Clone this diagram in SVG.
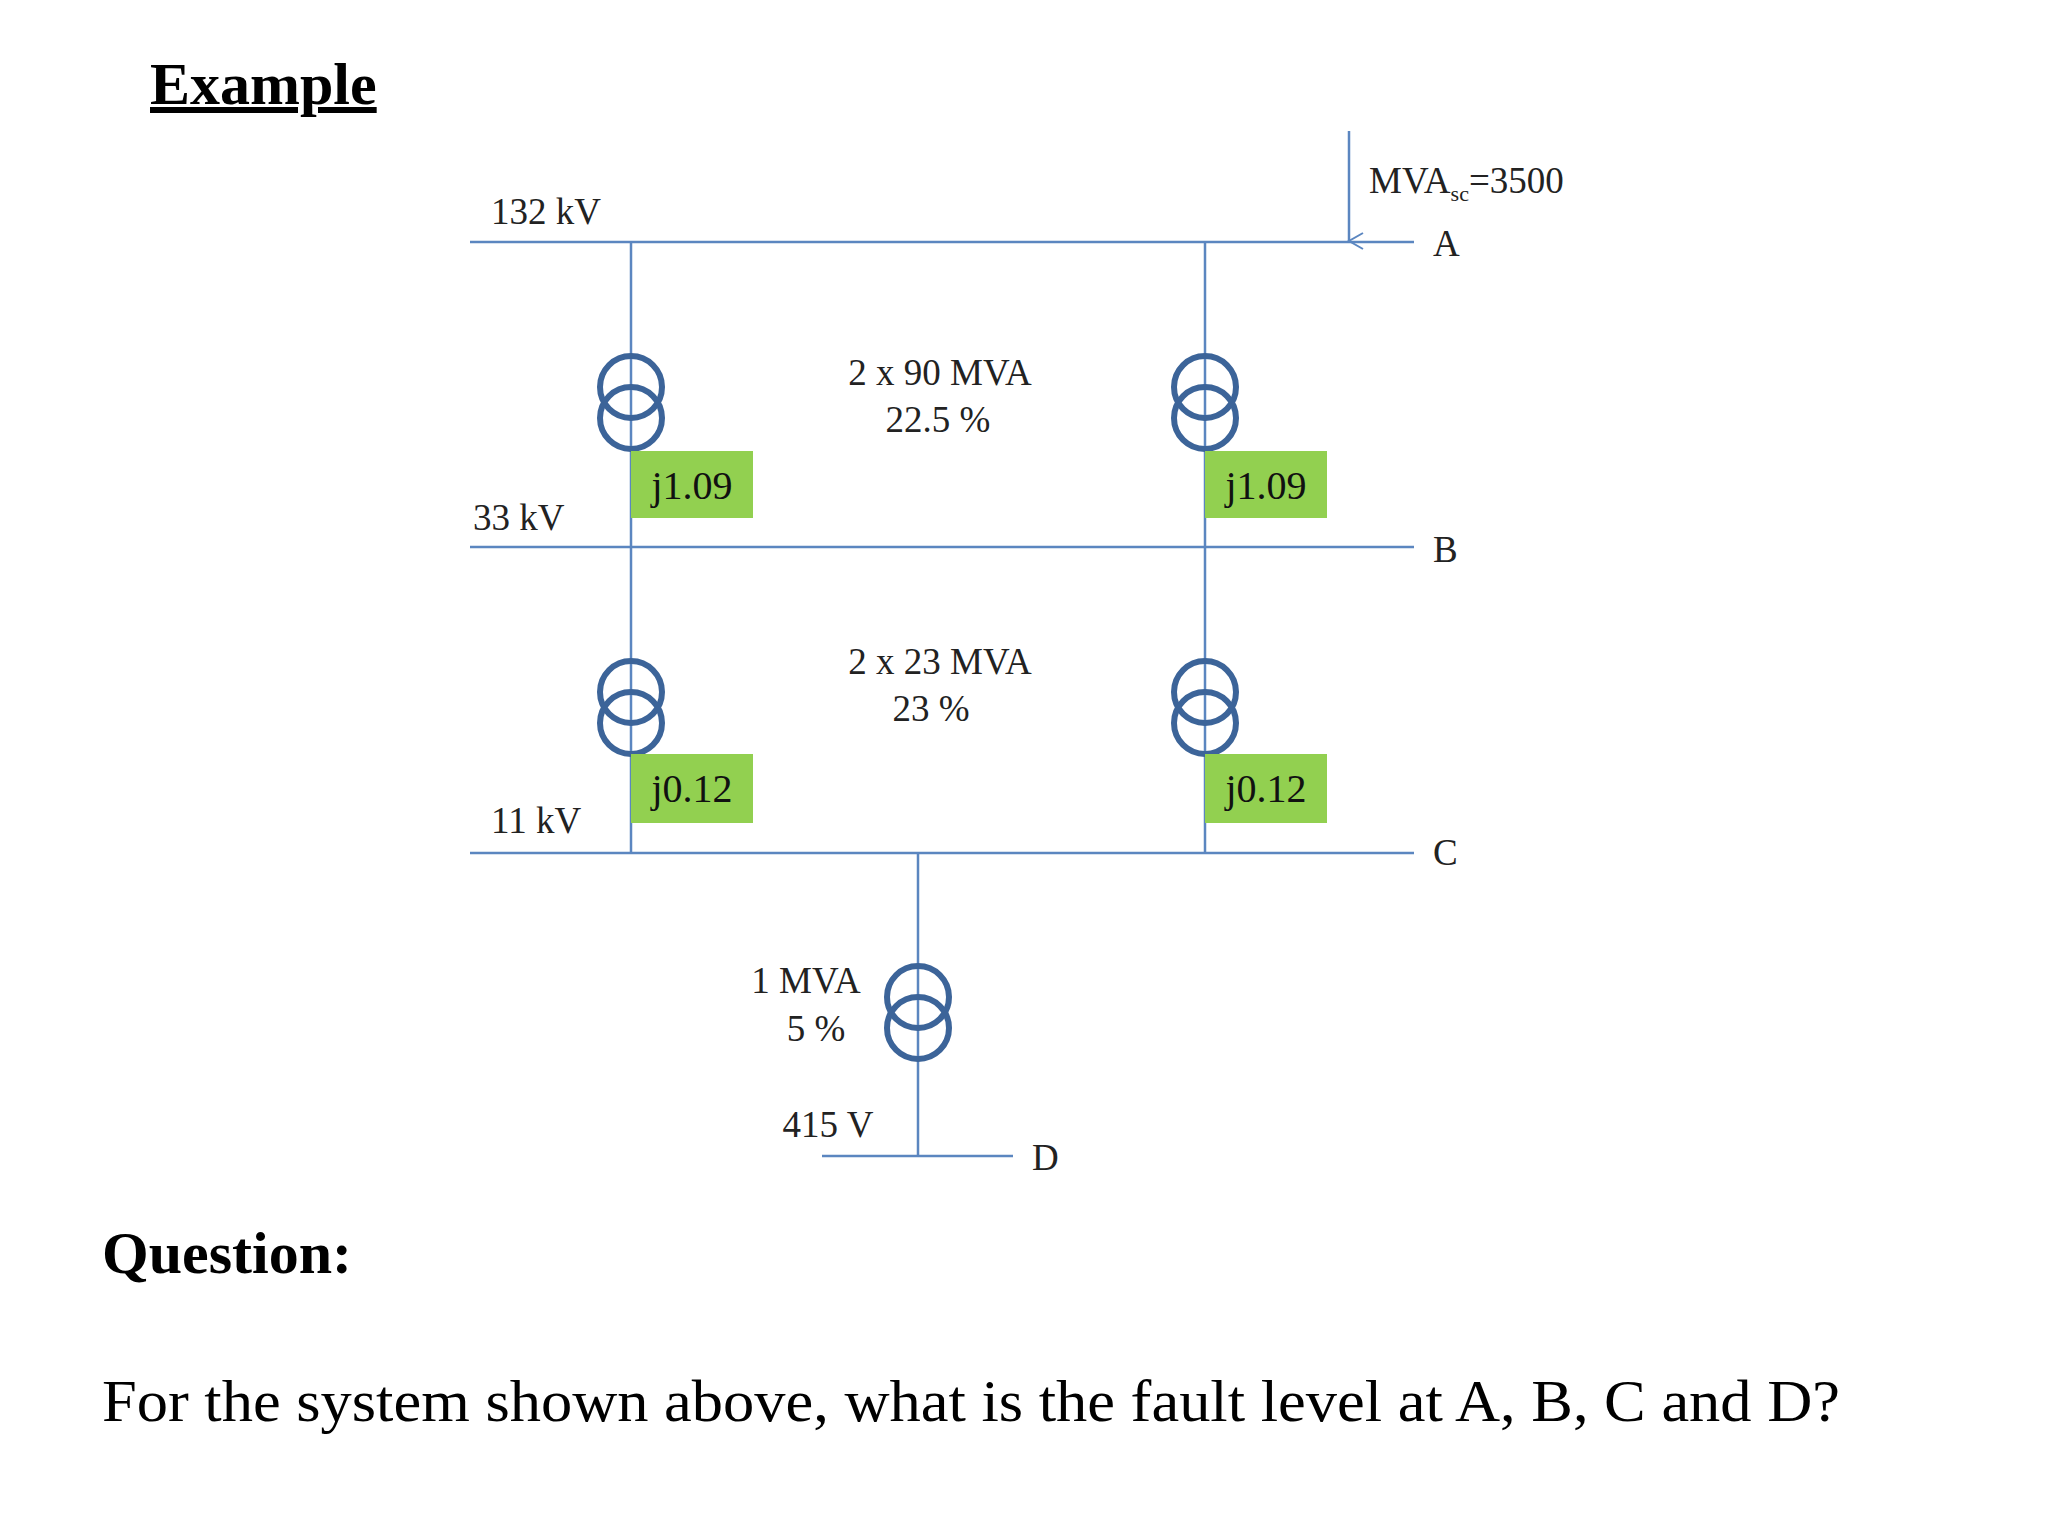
<svg xmlns="http://www.w3.org/2000/svg" width="2048" height="1536" viewBox="0 0 2048 1536">
<defs>
<style>
.bus{stroke:#5b86c0;stroke-width:2.5;fill:none}
.tr{stroke:#3c6499;stroke-width:6;fill:none}
.lbl{font-family:"Liberation Serif",serif;font-size:37px;fill:#222}
.box{fill:#92d050}
.val{font-family:"Liberation Serif",serif;font-size:40px;fill:#111;text-anchor:middle}
.big{font-family:"Liberation Serif",serif;font-size:60px;fill:#000}
</style>
<marker id="ah" viewBox="0 0 20 20" refX="10" refY="18" markerWidth="20" markerHeight="20" markerUnits="userSpaceOnUse" orient="auto-start-reverse"><path d="M2,4 L10,18 L18,4" fill="none" stroke="#5b86c0" stroke-width="2"/></marker>
</defs>
<rect width="2048" height="1536" fill="#fff"/>
<text x="150" y="104" class="big" font-weight="bold" text-decoration="underline">Example</text>
<g id="connectors">
<line class="bus" x1="470" y1="242" x2="1414" y2="242"/>
<line class="bus" x1="470" y1="547" x2="1414" y2="547"/>
<line class="bus" x1="470" y1="853" x2="1414" y2="853"/>
<line class="bus" x1="822" y1="1156" x2="1013" y2="1156"/>
<line class="bus" x1="631" y1="242" x2="631" y2="853"/>
<line class="bus" x1="1205" y1="242" x2="1205" y2="853"/>
<line class="bus" x1="918" y1="853" x2="918" y2="1156"/>
<line class="bus" x1="1349" y1="131" x2="1349" y2="241" marker-end="url(#ah)"/>
</g>
<g id="t1"><circle class="tr" cx="631" cy="387" r="31"/><circle class="tr" cx="631" cy="418" r="31"/></g>
<g id="t2"><circle class="tr" cx="1205" cy="387" r="31"/><circle class="tr" cx="1205" cy="418" r="31"/></g>
<g id="t3"><circle class="tr" cx="631" cy="692" r="31"/><circle class="tr" cx="631" cy="723" r="31"/></g>
<g id="t4"><circle class="tr" cx="1205" cy="692" r="31"/><circle class="tr" cx="1205" cy="723" r="31"/></g>
<g id="t5"><circle class="tr" cx="918" cy="997" r="31"/><circle class="tr" cx="918" cy="1028" r="31"/></g>
<g id="z1"><rect class="box" x="631" y="451" width="122" height="67"/><text class="val" x="692" y="499">j1.09</text></g>
<g id="z2"><rect class="box" x="1205" y="451" width="122" height="67"/><text class="val" x="1266" y="499">j1.09</text></g>
<g id="z3"><rect class="box" x="631" y="754" width="122" height="69"/><text class="val" x="692" y="802">j0.12</text></g>
<g id="z4"><rect class="box" x="1205" y="754" width="122" height="69"/><text class="val" x="1266" y="802">j0.12</text></g>
<g id="labels">
<text class="lbl" x="491" y="224">132 kV</text>
<text class="lbl" x="473" y="530">33 kV</text>
<text class="lbl" x="491" y="833">11 kV</text>
<text class="lbl" x="940" y="385" text-anchor="middle">2 x 90 MVA</text>
<text class="lbl" x="938" y="432" text-anchor="middle">22.5 %</text>
<text class="lbl" x="940" y="674" text-anchor="middle">2 x 23 MVA</text>
<text class="lbl" x="931" y="721" text-anchor="middle">23 %</text>
<text class="lbl" x="806" y="993" text-anchor="middle">1 MVA</text>
<text class="lbl" x="816" y="1041" text-anchor="middle">5 %</text>
<text class="lbl" x="828" y="1137" text-anchor="middle">415 V</text>
<text class="lbl" x="1032" y="1170">D</text>
<text class="lbl" x="1433" y="256">A</text>
<text class="lbl" x="1433" y="562">B</text>
<text class="lbl" x="1433" y="865">C</text>
<text class="lbl" x="1369" y="193">MVA<tspan font-size="22" dy="8">sc</tspan><tspan dy="-8">=3500</tspan></text>
</g>
<text x="102" y="1273" class="big" font-weight="bold">Question:</text>
<text x="102" y="1421" class="big" textLength="1738" lengthAdjust="spacingAndGlyphs">For the system shown above, what is the fault level at A, B, C and D?</text>
</svg>
